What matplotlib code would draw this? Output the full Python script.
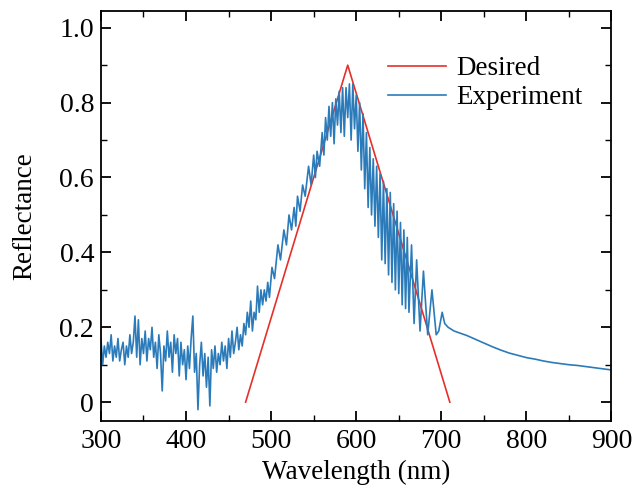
import matplotlib
matplotlib.use("Agg")
from matplotlib import pyplot as plt
from matplotlib.ticker import MultipleLocator

# desired (target) spectrum: a triangle
desired_wl = [470, 590, 710]
desired_r = [0.0, 0.9, 0.0]

exp_wl = [
    300, 302, 304, 306, 308, 310, 312, 314, 316, 318, 320, 322, 324, 326, 328,
    330, 332, 334, 336, 338, 340, 342, 344, 346, 348, 350, 352, 354, 356, 358,
    360, 362, 364, 366, 368, 370, 372, 374, 376, 378, 380, 382, 384, 386, 388,
    390, 392, 394, 396, 398, 400, 402, 404, 406, 408, 410, 412, 414, 416, 418,
    420, 422, 424, 426, 428, 430, 432, 434, 436, 438, 440, 442, 444, 446, 448,
    450, 452, 454, 456, 458, 460, 462, 464, 466, 468, 470, 472, 474, 476, 478,
    480, 482, 484, 486, 488, 490, 492, 494, 496, 498, 501, 504, 508, 511, 515,
    518, 521, 524, 527, 529, 531, 534, 537, 540, 544, 547, 550, 552, 554, 557,
    560, 562, 564, 566, 568, 570, 572, 574, 576, 578, 580, 582, 584, 586, 588,
    590, 592, 594, 596, 598, 600, 602, 604, 606, 608, 610, 612, 614, 616, 618,
    620, 622, 624, 626, 628, 630, 632, 634, 636, 638, 640, 642, 644, 646, 648,
    650, 652, 654, 656, 658, 660, 662, 665, 668, 671, 675, 679, 684, 689, 694,
    697, 701, 704, 708, 715, 720, 730, 740, 750, 760, 770, 780, 790, 800, 810,
    820, 830, 840, 850, 860, 870, 880, 890, 900,
]
exp_r = [
    0.17, 0.10, 0.15, 0.12, 0.16, 0.13, 0.18, 0.11, 0.15, 0.12, 0.17, 0.11, 0.14, 0.16, 0.10,
    0.15, 0.12, 0.18, 0.13, 0.16, 0.23, 0.12, 0.22, 0.10, 0.17, 0.13, 0.19, 0.11, 0.17, 0.14,
    0.20, 0.12, 0.16, 0.09, 0.18, 0.13, 0.03, 0.15, 0.11, 0.19, 0.12, 0.16, 0.08, 0.18, 0.13,
    0.17, 0.07, 0.16, 0.10, 0.14, 0.06, 0.15, 0.09, 0.17, 0.23, 0.08, 0.13, -0.02, 0.10, 0.16,
    0.07, 0.13, 0.04, 0.12, -0.01, 0.14, 0.09, 0.15, 0.08, 0.13, 0.10, 0.16, 0.11, 0.15, 0.09,
    0.17, 0.12, 0.19, 0.13, 0.16, 0.20, 0.14, 0.18, 0.15, 0.21, 0.18, 0.24, 0.20, 0.27, 0.19,
    0.24, 0.22, 0.31, 0.24, 0.30, 0.26, 0.30, 0.27, 0.32, 0.28, 0.36, 0.33, 0.42, 0.38, 0.46,
    0.42, 0.50, 0.46, 0.52, 0.47, 0.55, 0.51, 0.58, 0.55, 0.63, 0.58, 0.66, 0.60, 0.67, 0.63,
    0.72, 0.66, 0.76, 0.70, 0.79, 0.71, 0.80, 0.69, 0.81, 0.74, 0.83, 0.72, 0.84, 0.71, 0.84,
    0.76, 0.85, 0.70, 0.85, 0.73, 0.82, 0.67, 0.80, 0.62, 0.77, 0.57, 0.72, 0.52, 0.68, 0.50,
    0.65, 0.47, 0.63, 0.44, 0.61, 0.38, 0.59, 0.37, 0.57, 0.34, 0.56, 0.32, 0.53, 0.30, 0.51,
    0.29, 0.48, 0.26, 0.46, 0.25, 0.44, 0.24, 0.42, 0.21, 0.38, 0.19, 0.35, 0.18, 0.30, 0.18,
    0.19, 0.24, 0.21, 0.20, 0.19, 0.186, 0.178, 0.168, 0.158, 0.148, 0.139, 0.131, 0.125, 0.119, 0.115,
    0.110, 0.106, 0.103, 0.100, 0.098, 0.095, 0.092, 0.089, 0.086,
]

RED = "#e5302a"
BLUE = "#2b7bba"

plt.rcParams["font.family"] = ["Liberation Serif", "DejaVu Serif"]

fig = plt.figure(figsize=(6.43, 4.94), dpi=100)
ax = fig.add_axes([0.157, 0.148, 0.794, 0.830])

ax.plot(desired_wl, desired_r, color=RED, lw=1.2, label="Desired")
ax.plot(exp_wl, exp_r, color=BLUE, lw=1.2, label="Experiment")

ax.set_xlim(300, 900)
ax.set_ylim(-0.05, 1.045)
ax.xaxis.set_major_locator(MultipleLocator(100))
ax.xaxis.set_minor_locator(MultipleLocator(50))
ax.set_yticks([0, 0.2, 0.4, 0.6, 0.8, 1.0])
ax.set_yticklabels(["0", "0.2", "0.4", "0.6", "0.8", "1.0"])
ax.yaxis.set_minor_locator(MultipleLocator(0.1))

ax.tick_params(which="both", direction="in", top=True, right=True, labelsize=20)
ax.tick_params(which="major", length=7, width=1.3)
ax.tick_params(which="minor", length=4, width=1.0)
ax.tick_params(axis="x", pad=6)
ax.tick_params(axis="y", pad=5)
for s in ax.spines.values():
    s.set_linewidth(1.3)

ax.set_xlabel("Wavelength (nm)", fontsize=19.5, labelpad=4)
ax.set_ylabel("Reflectance", fontsize=19.5, labelpad=16)

ax.legend(loc="upper left", bbox_to_anchor=(0.536, 0.922), frameon=False,
          fontsize=19.5, handlelength=2.15, handletextpad=0.35, borderpad=0,
          labelspacing=0.15)

plt.savefig("out.png", dpi=100)
